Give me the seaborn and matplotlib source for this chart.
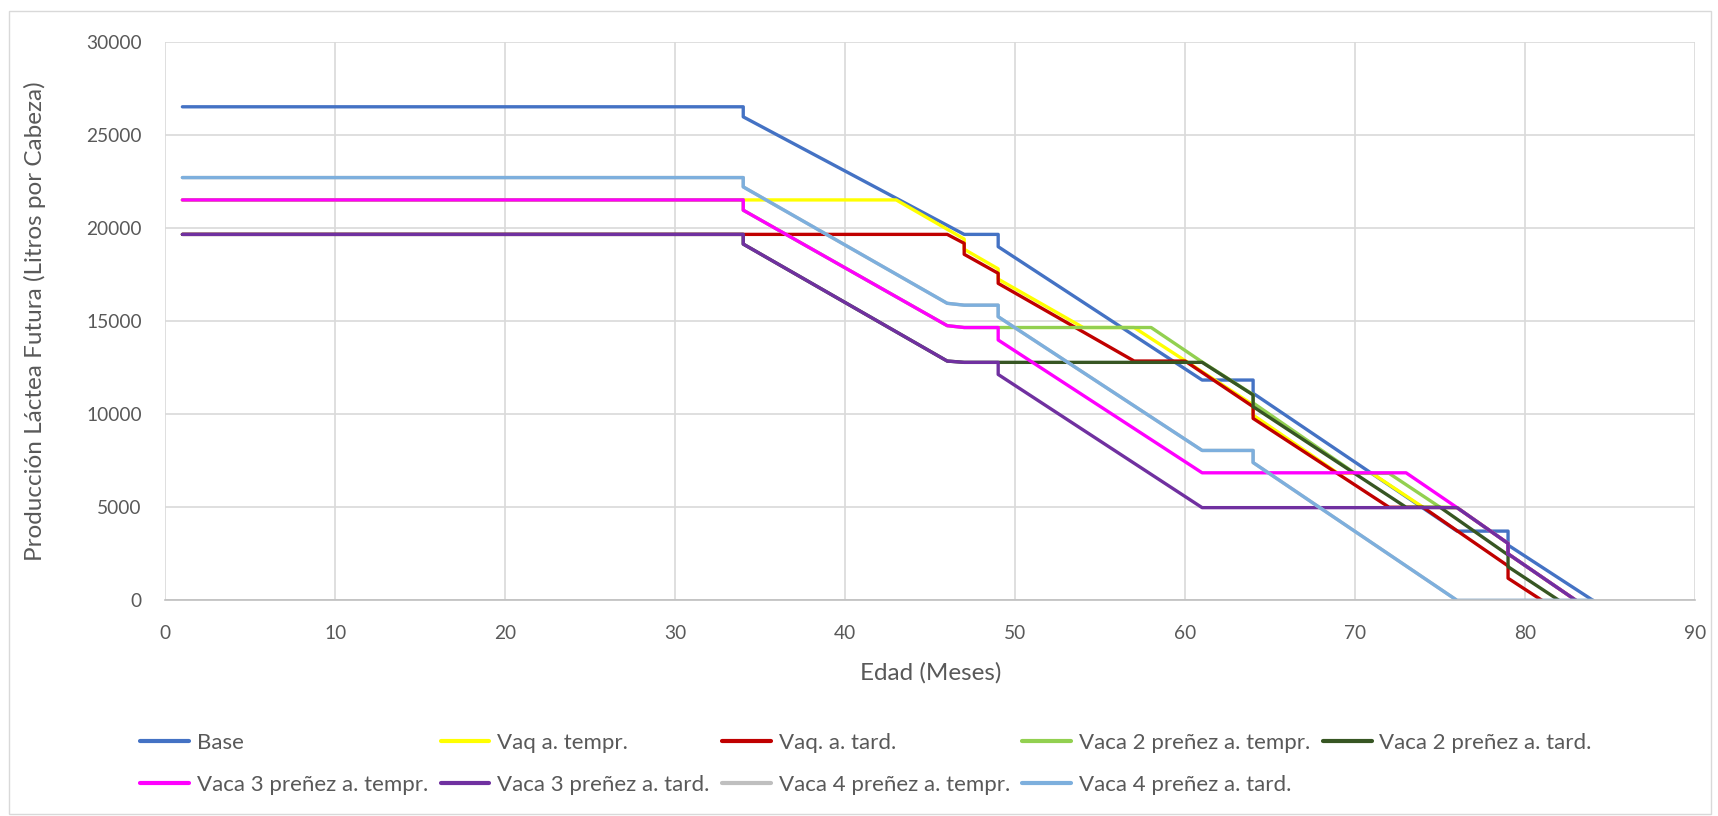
import numpy as np
import pandas as pd
import matplotlib
matplotlib.use("Agg")
import matplotlib.pyplot as plt
import seaborn as sns
from matplotlib.patches import Rectangle

# ---------------- data (breakpoints) ----------------
age_base = [1, 34, 34, 47, 49, 49, 61, 64, 64, 76, 79, 79, 84]
prod_base = [26500, 26500, 25960, 19650, 19650, 18990, 11830, 11830, 11120, 3720, 3720, 2970, 0]

age_vaq_t = [1, 43, 47, 47, 49, 49, 54, 57, 64, 64, 69, 71, 74, 76, 79, 79, 83]
prod_vaq_t = [21500, 21500, 19400, 18850, 17800, 17250, 14650, 14650, 10500, 9950, 6820, 6820, 5000, 4980, 3060, 2500, 0]

age_vaq_tard = [1, 46, 47, 47, 49, 49, 57, 60, 64, 64, 72, 74, 79, 79, 81]
prod_vaq_tard = [19650, 19650, 19170, 18580, 17560, 17020, 12850, 12850, 10400, 9770, 5000, 5000, 1850, 1190, 0]

age_v2_t = [1, 34, 34, 46, 47, 58, 61, 64, 64, 70, 72, 75, 76, 79, 79, 83]
prod_v2_t = [21500, 21500, 20950, 14750, 14650, 14650, 12800, 11050, 10600, 6820, 6820, 5000, 4980, 3060, 2500, 0]

age_v2_tard = [1, 34, 34, 46, 47, 61, 64, 64, 73, 75, 79, 79, 82]
prod_v2_tard = [19650, 19650, 19130, 12850, 12780, 12780, 11030, 10400, 5000, 5000, 2440, 1810, 0]

age_v3_t = [1, 34, 34, 46, 47, 49, 49, 61, 73, 76, 79, 79, 83]
prod_v3_t = [21500, 21500, 20950, 14750, 14650, 14650, 13980, 6850, 6850, 4980, 3060, 2500, 0]

age_v3_tard = [1, 34, 34, 46, 47, 49, 49, 61, 76, 79, 79, 83]
prod_v3_tard = [19650, 19650, 19130, 12850, 12780, 12780, 12130, 4980, 4980, 3060, 2500, 0]

age_v4_t = [1, 34, 34, 46, 47, 49, 49, 61, 64, 64, 76, 84]
prod_v4_t = [22700, 22700, 22200, 15950, 15850, 15850, 15230, 8050, 8050, 7400, 0, 0]

age_v4_tard = [1, 34, 34, 46, 47, 49, 49, 61, 64, 64, 76, 84]
prod_v4_tard = [22700, 22700, 22200, 15950, 15850, 15850, 15230, 8050, 8050, 7400, 0, 0]

series_names = ["Base", "Vaq a. tempr.", "Vaq. a. tard.", "Vaca 2 preñez a. tempr.",
                "Vaca 2 preñez a. tard.", "Vaca 3 preñez a. tempr.", "Vaca 3 preñez a. tard.",
                "Vaca 4 preñez a. tempr.", "Vaca 4 preñez a. tard."]
series_x = [age_base, age_vaq_t, age_vaq_tard, age_v2_t, age_v2_tard, age_v3_t, age_v3_tard, age_v4_t, age_v4_tard]
series_y = [prod_base, prod_vaq_t, prod_vaq_tard, prod_v2_t, prod_v2_tard, prod_v3_t, prod_v3_tard, prod_v4_t, prod_v4_tard]
series_colors = ["#4472C4", "#FFFF00", "#C00000", "#92D050", "#375623", "#FF00FF", "#7030A0", "#BFBFBF", "#7DAFDD"]

x_ticks = [0, 10, 20, 30, 40, 50, 60, 70, 80, 90]
y_ticks = [0, 5000, 10000, 15000, 20000, 25000, 30000]

# ---------------- figure ----------------
sns.set_theme(style="white")
plt.rcParams['font.family'] = ['Lato', 'DejaVu Sans']
txt = "#595959"

W, H = 1718, 816
fig = plt.figure(figsize=(W / 100, H / 100), dpi=100)
fig.patch.set_facecolor("white")
fig.add_artist(Rectangle((9 / W, 1 - 814 / H), (1711 - 9) / W, (814 - 11) / H,
                         transform=fig.transFigure, fill=False, edgecolor="#D9D9D9", lw=1.0))

x0, x1, y0, y1 = 165.4, 1695, 41.6, 600.4
ax = fig.add_axes([x0 / W, 1 - y1 / H, (x1 - x0) / W, (y1 - y0) / H])

handles = []
for name, xs, ys, col in zip(series_names, series_x, series_y, series_colors):
    df = pd.DataFrame({"Edad": xs, "Prod": ys})
    sns.lineplot(data=df, x="Edad", y="Prod", ax=ax, estimator=None, sort=False,
                 color=col, lw=2.4, legend=False)
    ln = ax.get_lines()[-1]
    ln.set_solid_joinstyle("round")
    handles.append(ln)

ax.set_xlim(0, 90)
ax.set_ylim(0, 30000)
ax.set_xticks(x_ticks)
ax.set_yticks(y_ticks)
ax.grid(True, color="#D9D9D9", lw=1.2)
ax.set_axisbelow(True)
for s in ["top", "right", "left"]:
    ax.spines[s].set_visible(False)
ax.spines["bottom"].set_color("#BFBFBF")
ax.spines["bottom"].set_linewidth(1.2)
ax.tick_params(axis="both", length=0, labelsize=13.8, labelcolor=txt)
ax.tick_params(axis="x", pad=18)
ax.tick_params(axis="y", pad=17)
ax.set_xlabel("Edad (Meses)", fontsize=17.5, color=txt, labelpad=14)
ax.set_ylabel("Producción Láctea Futura (Litros por Cabeza)", fontsize=17.5, color=txt, labelpad=29)

order = [0, 5, 1, 6, 2, 7, 3, 8, 4]
leg = fig.legend([handles[i] for i in order], [series_names[i] for i in order],
                 loc="center", bbox_to_anchor=(866 / W, 1 - 764 / H), ncol=5, frameon=False,
                 fontsize=16, handlelength=2.2, handletextpad=0.35, columnspacing=0.56,
                 labelspacing=1.0)
for t in leg.get_texts():
    t.set_color(txt)
for l in leg.get_lines():
    l.set_linewidth(3)

fig.savefig("out.png", dpi=100)
